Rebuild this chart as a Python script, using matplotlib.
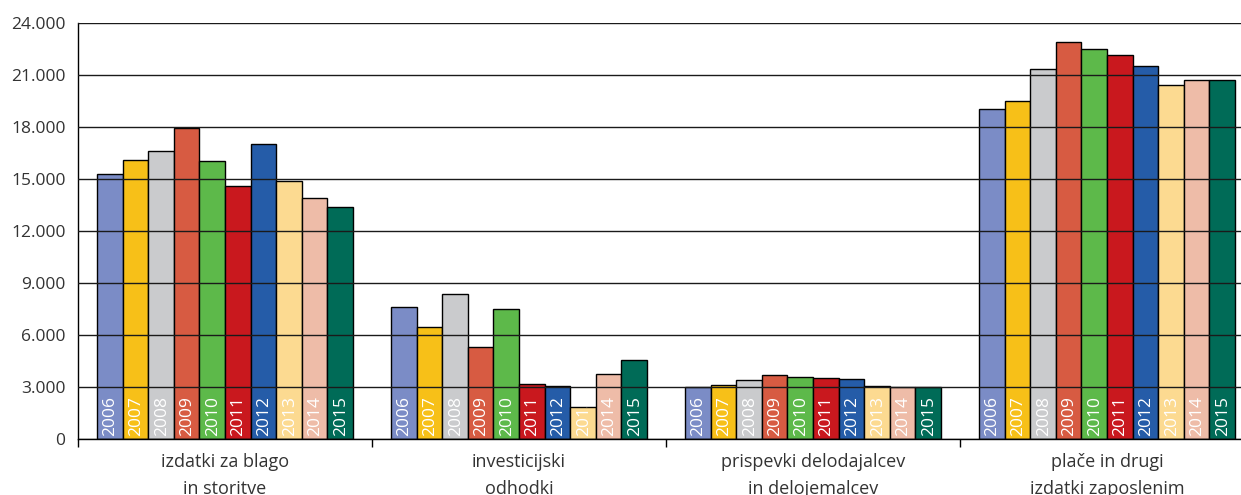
import numpy as np
import matplotlib.pyplot as plt
from matplotlib.ticker import FuncFormatter

# Expenditure by category and year
categories = ['izdatki za blago\nin storitve',
              'investicijski\nodhodki',
              'prispevki delodajalcev\nin delojemalcev',
              'plače in drugi\nizdatki zaposlenim']
years = ['2006', '2007', '2008', '2009', '2010', '2011', '2012', '2013', '2014', '2015']

values_2006 = [15300, 7600, 3030, 19050]
values_2007 = [16100, 6450, 3130, 19500]
values_2008 = [16600, 8400, 3440, 21350]
values_2009 = [17950, 5300, 3690, 22900]
values_2010 = [16050, 7500, 3600, 22500]
values_2011 = [14600, 3200, 3550, 22150]
values_2012 = [17000, 3050, 3500, 21500]
values_2013 = [14870, 1850, 3100, 20450]
values_2014 = [13900, 3750, 3030, 20700]
values_2015 = [13400, 4600, 3020, 20700]
series = [values_2006, values_2007, values_2008, values_2009, values_2010,
          values_2011, values_2012, values_2013, values_2014, values_2015]

colors = ['#7B8CC6', '#F7C018', '#CACBCD', '#D75B42', '#5DB94A',
          '#C9181E', '#255CA8', '#FCDA91', '#EEBCA8', '#006B57']

yticks = np.arange(0, 24001, 3000)

plt.rcParams['font.family'] = ['Open Sans', 'DejaVu Sans']

fig = plt.figure(figsize=(12.41, 4.95), dpi=100)
ax = fig.add_axes([78 / 1241, 0.1125, 1176 / 1241, 0.841])

x = np.arange(len(categories))
w = 0.0871
for i, (yr, vals) in enumerate(zip(years, series)):
    pos = x + (i - 4.5) * w
    bars = ax.bar(pos, vals, width=w, color=colors[i], edgecolor='black',
                  linewidth=1, zorder=1)
    for b, p in zip(bars, pos):
        t = ax.annotate(yr, xy=(p, 0), xytext=(0.5, 2.5), textcoords='offset points',
                        rotation=90, ha='center', va='bottom', color='white',
                        fontsize=12.5, zorder=4)
        t.set_clip_path(b)

ax.set_xlim(-0.5, 3.5)
ax.set_ylim(0, 24000)
ax.set_yticks(yticks)
ax.yaxis.set_major_formatter(FuncFormatter(lambda v, _: f'{int(v):,}'.replace(',', '.')))
ax.tick_params(axis='y', length=0, pad=9, labelsize=12.5, labelcolor='#333333')

ax.set_xticks(x)
ax.set_xticklabels(categories, fontsize=13, color='#333333', linespacing=1.6)
ax.set_xticks(np.arange(-0.5, 3.6, 1), minor=True)
ax.tick_params(axis='x', which='major', length=0, pad=10)
ax.tick_params(axis='x', which='minor', length=6, direction='out', width=1)

ax.grid(axis='y', color='#1a1a1a', linewidth=1, zorder=3)
ax.set_axisbelow(False)
for s in ['top', 'right']:
    ax.spines[s].set_visible(False)
ax.spines['left'].set_linewidth(1)
ax.spines['bottom'].set_linewidth(1)

fig.savefig('out.png', dpi=100)
